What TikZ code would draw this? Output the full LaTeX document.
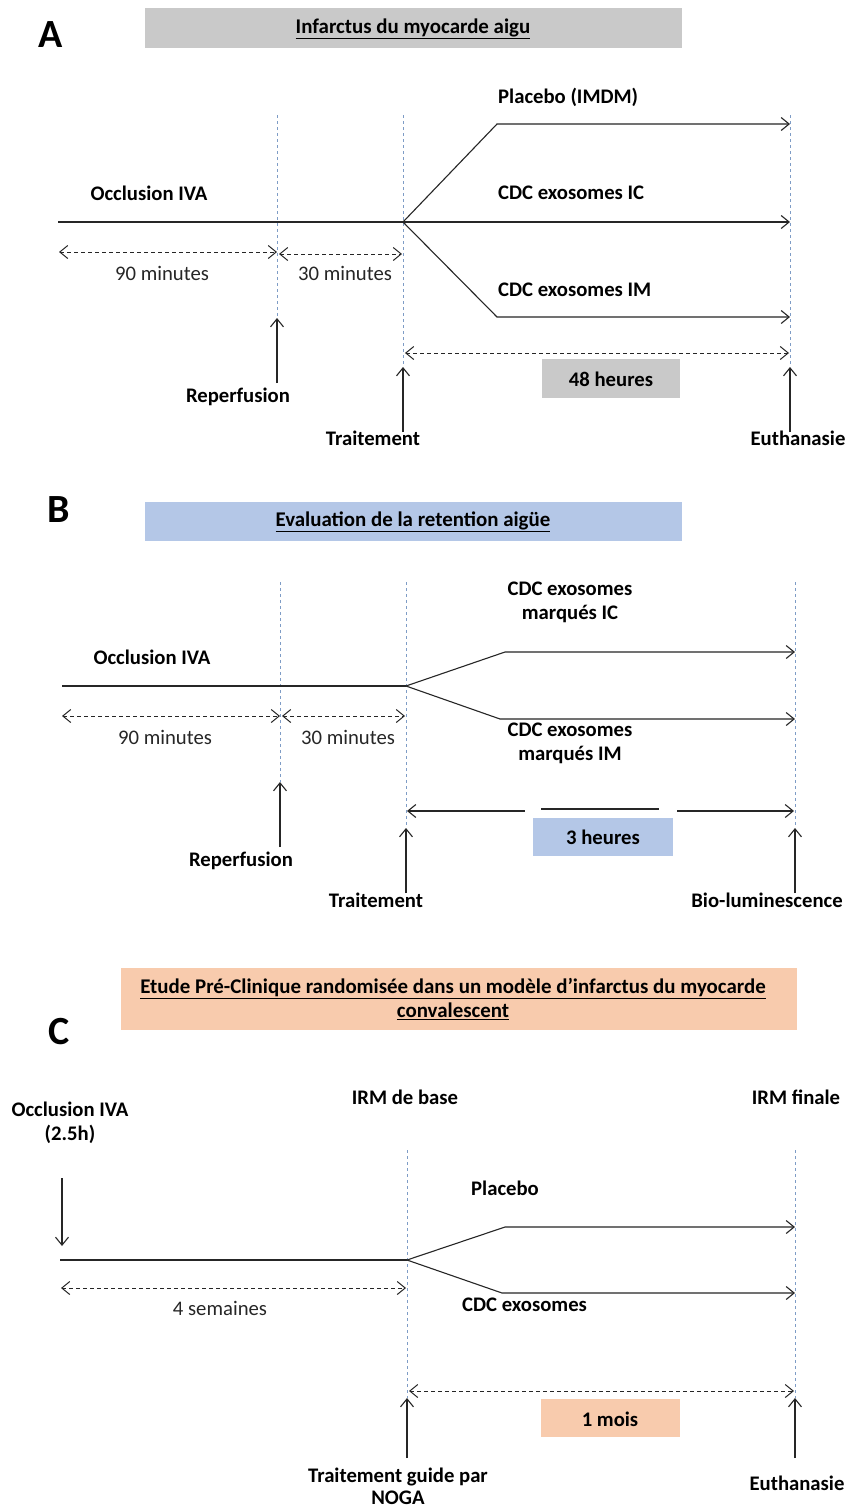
\documentclass[tikz,border=0pt]{standalone}
\usepackage{fontspec}
\setmainfont{Carlito}
\usetikzlibrary{arrows.meta}
\definecolor{ink}{HTML}{262626}
\definecolor{vblue}{HTML}{7E9CC6}
\definecolor{boxgray}{HTML}{C9C9C9}
\definecolor{boxblue}{HTML}{B4C7E7}
\definecolor{boxorange}{HTML}{F8CBAD}
\tikzset{
  x=1pt, y=-1pt,
  tline/.style={draw=ink, line width=1.1pt},
  arr/.style={tline, -{Straight Barb[length=8pt,width=13pt,line width=1.1pt]}},
  darr/.style={draw=ink, line width=1pt, dash pattern=on 4pt off 3pt,
     {Straight Barb[length=8pt,width=13pt,line width=1pt]}-{Straight Barb[length=8pt,width=13pt,line width=1pt]}},
  sarr/.style={tline, {Straight Barb[length=8pt,width=13pt,line width=1.1pt]}-},
  vline/.style={draw=vblue, line width=0.8pt, dash pattern=on 3pt off 3pt},
  lb/.style={font=\fontsize{20.7}{24}\selectfont\bfseries, text=black, inner sep=0pt, align=center},
  lr/.style={font=\fontsize{20.7}{24}\selectfont, text=ink, inner sep=0pt, align=center},
  letter/.style={font=\fontsize{40}{44}\selectfont\bfseries, text=black, inner sep=0pt},
  titlebox/.style={inner sep=0pt, font=\fontsize{20.9}{24.5}\selectfont\bfseries, align=center},
  durbox/.style={inner sep=0pt, font=\fontsize{20.7}{24}\selectfont\bfseries},
}
\begin{document}
\begin{tikzpicture}
\useasboundingbox[fill=white] (0,0) rectangle (846,1510);

%%%%%%%%%%%%%%%% PANEL A
\node[letter] (Aletter) at (51,35) {A};
\fill[boxgray] (145,8) rectangle (682,48);
\node[titlebox] (Atitle) at (413,29) {\underline{Infarctus du myocarde aigu}};

\coordinate (Av1t) at (277,115); \coordinate (Av1b) at (277,318);
\coordinate (Av2t) at (403,115); \coordinate (Av2b) at (403,367);
\coordinate (Av3t) at (790,115); \coordinate (Av3b) at (790,367);
\draw[vline] (Av1t) -- (Av1b);
\draw[vline] (Av2t) -- (Av2b);
\draw[vline] (Av3t) -- (Av3b);

\coordinate (A0) at (58,222);
\coordinate (AT) at (403,222);
\coordinate (AU) at (497,124);
\coordinate (AUe) at (790,124);
\coordinate (AMe) at (790,222);
\coordinate (AL) at (497,317);
\coordinate (ALe) at (790,317);
\draw[tline] (A0) -- (AT);
\draw[arr] (AT) -- (AU) -- (AUe);
\draw[arr] (AT) -- (AMe);
\draw[arr] (AT) -- (AL) -- (ALe);

\node[lb, anchor=west] (Aplac) at (498,97) {Placebo (IMDM)};
\node[lb, anchor=west] (Aic) at (498,193) {CDC exosomes IC};
\node[lb, anchor=west] (Aim) at (498,290) {CDC exosomes IM};
\node[lb] (Aocc) at (149,193) {Occlusion IVA};

\coordinate (Ad0) at (59,252); \coordinate (Ad1) at (277,252);
\coordinate (Ad2) at (279,254); \coordinate (Ad3) at (402,254);
\draw[darr] (Ad0) -- (Ad1);
\draw[darr] (Ad2) -- (Ad3);
\node[lr] (A90) at (162,273) {90 minutes};
\node[lr] (A30) at (345,273) {30 minutes};

\coordinate (Arep) at (277,383);
\draw[arr] (Arep) -- (Av1b);
\node[lb] (Areplbl) at (238,397) {Reperfusion};

\coordinate (Atrt) at (403,432);
\draw[arr] (Atrt) -- (Av2b);
\node[lb] (Atrtlbl) at (373,438) {Traitement};

\coordinate (Aeut) at (790,432);
\draw[arr] (Aeut) -- (Av3b);
\node[lb] (Aeutlbl) at (798,438) {Euthanasie};

\coordinate (Ah0) at (405,353); \coordinate (Ah1) at (789,353);
\draw[darr] (Ah0) -- (Ah1);
\fill[boxgray] (542,359) rectangle (680,398);
\node[durbox] (A48) at (611,379) {48 heures};

%%%%%%%%%%%%%%%% PANEL B
\node[letter] (Bletter) at (59,510) {B};
\fill[boxblue] (145,502) rectangle (682,541);
\node[titlebox] (Btitle) at (413,522) {\underline{Evaluation de la retention aigüe}};

\coordinate (Bv1t) at (280,582); \coordinate (Bv1b) at (280,782);
\coordinate (Bv2t) at (406,582); \coordinate (Bv2b) at (406,828);
\coordinate (Bv3t) at (795,582); \coordinate (Bv3b) at (795,828);
\draw[vline] (Bv1t) -- (Bv1b);
\draw[vline] (Bv2t) -- (Bv2b);
\draw[vline] (Bv3t) -- (Bv3b);

\coordinate (B0) at (62,686);
\coordinate (BT) at (406,686);
\coordinate (BU) at (505,652);
\coordinate (BUe) at (795,652);
\coordinate (BL) at (500,719);
\coordinate (BLe) at (795,719);
\draw[tline] (B0) -- (BT);
\draw[arr] (BT) -- (BU) -- (BUe);
\draw[arr] (BT) -- (BL) -- (BLe);

\node[lb] (Bic) at (570,602) {CDC exosomes\\marqués IC};
\node[lb] (Bim) at (570,743) {CDC exosomes\\marqués IM};
\node[lb] (Bocc) at (152,657) {Occlusion IVA};

\coordinate (Bd0) at (62,716); \coordinate (Bd1) at (280,716);
\coordinate (Bd2) at (282,716); \coordinate (Bd3) at (405,716);
\draw[darr] (Bd0) -- (Bd1);
\draw[darr] (Bd2) -- (Bd3);
\node[lr] (B90) at (165,737) {90 minutes};
\node[lr] (B30) at (348,737) {30 minutes};

\coordinate (Brep) at (280,847);
\draw[arr] (Brep) -- (Bv1b);
\node[lb] (Breplbl) at (241,861) {Reperfusion};

\coordinate (Btrt) at (406,893);
\draw[arr] (Btrt) -- (Bv2b);
\node[lb] (Btrtlbl) at (376,900) {Traitement};

\coordinate (Bbio) at (795,893);
\draw[arr] (Bbio) -- (Bv3b);
\node[lb] (Bbiolbl) at (767,900) {Bio-luminescence};

\coordinate (Bh0) at (407,811); \coordinate (Bh1) at (525,811);
\coordinate (Bh2) at (541,809); \coordinate (Bh3) at (659,809);
\coordinate (Bh4) at (677,811); \coordinate (Bh5) at (794,811);
\draw[sarr] (Bh0) -- (Bh1);
\draw[tline] (Bh2) -- (Bh3);
\draw[arr] (Bh4) -- (Bh5);
\fill[boxblue] (533,818) rectangle (673,856);
\node[durbox] (B3h) at (603,837) {3 heures};

%%%%%%%%%%%%%%%% PANEL C
\fill[boxorange] (121,968) rectangle (797,1030);
\node[titlebox] (Ctitle) at (453,999) {\underline{Etude Pré-Clinique randomisée dans un modèle d’infarctus du myocarde}\\\underline{convalescent}};
\node[letter] (Cletter) at (59,1032) {C};

\node[lb] (Cocc) at (70,1123) {Occlusion IVA\\(2.5h)};
\node[lb] (Cbase) at (405,1097) {IRM de base};
\node[lb] (Cfin) at (796,1097) {IRM finale};

\coordinate (Cdn0) at (62,1178); \coordinate (Cdn1) at (62,1246);
\draw[arr] (Cdn0) -- (Cdn1);

\coordinate (Cv1t) at (407,1150); \coordinate (Cv1b) at (407,1398);
\coordinate (Cv2t) at (795,1150); \coordinate (Cv2b) at (795,1398);
\draw[vline] (Cv1t) -- (Cv1b);
\draw[vline] (Cv2t) -- (Cv2b);

\coordinate (C0) at (60,1260);
\coordinate (CT) at (407,1260);
\coordinate (CU) at (505,1227);
\coordinate (CUe) at (795,1227);
\coordinate (CL) at (502,1293);
\coordinate (CLe) at (795,1293);
\draw[tline] (C0) -- (CT);
\draw[arr] (CT) -- (CU) -- (CUe);
\draw[arr] (CT) -- (CL) -- (CLe);

\node[lb, anchor=west] (Cplac) at (471,1188) {Placebo};
\node[lb, anchor=west] (Ccdc) at (462,1305) {CDC exosomes};

\coordinate (Cd0) at (61,1288); \coordinate (Cd1) at (406,1288);
\draw[darr] (Cd0) -- (Cd1);
\node[lr] (C4s) at (220,1308) {4 semaines};

\coordinate (Ch0) at (409,1391); \coordinate (Ch1) at (794,1391);
\draw[darr] (Ch0) -- (Ch1);
\fill[boxorange] (541,1399) rectangle (680,1437);
\node[durbox] (C1m) at (610,1419) {1 mois};

\coordinate (Ctrt) at (407,1458);
\draw[arr] (Ctrt) -- (Cv1b);
\node[lb, font=\fontsize{20.7}{22}\selectfont\bfseries] (Ctrtlbl) at (398,1486) {Traitement guide par\\NOGA};

\coordinate (Ceut) at (795,1458);
\draw[arr] (Ceut) -- (Cv2b);
\node[lb] (Ceutlbl) at (797,1483) {Euthanasie};
\end{tikzpicture}
\end{document}
